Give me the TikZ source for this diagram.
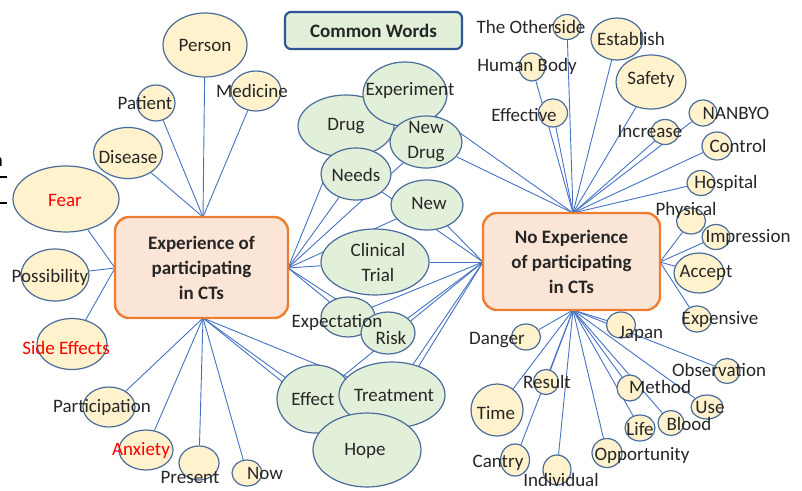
\documentclass[tikz,border=0pt]{standalone}
\usepackage{fontspec}
\setmainfont{Carlito}
\usetikzlibrary{shapes.geometric,backgrounds}
\definecolor{yfill}{HTML}{FFF2CC}
\definecolor{gfill}{HTML}{E2F0D9}
\definecolor{pfill}{HTML}{FBE5D6}
\definecolor{obord}{HTML}{ED7D31}
\definecolor{bbord}{HTML}{2F5597}
\definecolor{ebord}{HTML}{4A6C9B}
\definecolor{lcol}{HTML}{4472C4}
\definecolor{tcol}{HTML}{262626}
\definecolor{redt}{HTML}{FF0000}
\tikzset{
  yel/.style 2 args={ellipse, draw=ebord, fill=yfill, line width=1.2pt, inner sep=0pt, minimum width=#1pt, minimum height=#2pt},
  grn/.style 2 args={ellipse, draw=ebord, fill=gfill, line width=1.2pt, inner sep=0pt, minimum width=#1pt, minimum height=#2pt},
  hubbox/.style 2 args={rectangle, rounded corners=14pt, draw=obord, fill=pfill, line width=2.4pt, inner sep=0pt, minimum width=#1pt, minimum height=#2pt, align=center, font=\fontsize{19}{25}\selectfont\bfseries, text=tcol},
  cwbox/.style={rectangle, rounded corners=6pt, draw=bbord, fill=gfill, line width=2.2pt, inner sep=0pt, minimum width=177pt, minimum height=37pt, font=\fontsize{19}{25}\selectfont\bfseries, text=tcol},
  lbl/.style={inner sep=0pt, text=tcol, align=center},
  rlbl/.style={inner sep=0pt, text=redt, align=center},
  conn/.style={draw=lcol, line width=0.9pt},
  frag/.style={draw=black, line width=1.3pt}
}
\begin{document}
\begin{tikzpicture}[x=1pt,y=-1pt,font=\fontsize{19}{23}\selectfont]
\useasboundingbox (0,0) rectangle (802,490);

% stray fragments at the left edge
\node[lbl, anchor=east, text=black] (fragn) at (3,162) {n};
\coordinate (fa1) at (0,177); \coordinate (fa2) at (7,177);
\coordinate (fb1) at (0,203); \coordinate (fb2) at (7,203);
\draw[frag] (fa1) -- (fa2);
\draw[frag] (fb1) -- (fb2);

% main boxes
\node[hubbox={173}{101}] (lbox) at (201.5,267.5) {Experience of\\participating\\in CTs};
\node[hubbox={177}{97}] (rbox) at (571.5,261.5) {No Experience\\of participating\\in CTs};
\node[cwbox] (cw) at (373.5,30.5) {Common Words};

% hubs
\coordinate (lt) at (203,217);
\coordinate (lb) at (203,318);
\coordinate (ll) at (115,268);
\coordinate (lr) at (288,268);
\coordinate (rt) at (573,213);
\coordinate (rb) at (573,310);
\coordinate (rl) at (483,262);
\coordinate (rr) at (660,262);

% left yellow ellipses
\node[yel={84}{64}] (person) at (205,45) {};
\node[yel={50}{40}] (medicine) at (256,91) {};
\node[yel={38}{36}] (patient) at (156,103) {};
\node[yel={69}{51}] (disease) at (128,153) {};
\node[yel={106}{66}] (fear) at (66,199) {};
\node[yel={68}{52}] (possibility) at (55,275) {};
\node[yel={70}{51}] (sideeff) at (72,344) {};
\node[yel={52}{40}] (particip) at (109,407) {};
\node[yel={54}{40}] (anxiety) at (146,450) {};
\node[yel={40}{34}] (present) at (199,463) {};
\node[yel={30}{26}] (now) at (247,473) {};

% green ellipses
\node[grn={96}{62}] (drug) at (346,126) {};
\node[grn={84}{64}] (experiment) at (405,94) {};
\node[grn={70}{52}] (needs) at (356,174) {};
\node[grn={72}{52}] (newdrug) at (426,142) {};
\node[grn={72}{50}] (new) at (427,205) {};
\node[grn={108}{66}] (clinical) at (375,262) {};
\node[grn={54}{40}] (expect) at (348,317) {};
\node[grn={54}{42}] (risk) at (388,333) {};
\node[grn={76}{68}] (effect) at (315,399) {};
\node[grn={106}{66}] (treatment) at (392,395) {};
\node[grn={108}{74}] (hope) at (367,450) {};

% right yellow ellipses
\node[yel={28}{25}] (otherside) at (567,27) {};
\node[yel={52}{42}] (establish) at (617,39) {};
\node[yel={26}{28}] (humanbody) at (532,67) {};
\node[yel={70}{54}] (safety) at (651,82) {};
\node[yel={29}{28}] (effective) at (553,113) {};
\node[yel={28}{26}] (nanbyo) at (703,113) {};
\node[yel={28}{25}] (increase) at (665,132) {};
\node[yel={30}{28}] (control) at (717,146) {};
\node[yel={28}{25}] (hospital) at (701,183) {};
\node[yel={29}{26}] (physical) at (691,221) {};
\node[yel={28}{25}] (impression) at (716,237) {};
\node[yel={50}{40}] (accept) at (699,273) {};
\node[yel={29}{26}] (expensive) at (697,319) {};
\node[yel={29}{26}] (japan) at (621,325) {};
\node[yel={29}{26}] (danger) at (526,337) {};
\node[yel={26}{25}] (observation) at (727,371) {};
\node[yel={25}{25}] (result) at (546,382) {};
\node[yel={26}{26}] (method) at (630,388) {};
\node[yel={52}{52}] (time) at (497,410) {};
\node[yel={32}{24}] (use) at (707,407) {};
\node[yel={30}{26}] (life) at (640,428) {};
\node[yel={26}{25}] (blood) at (671,423) {};
\node[yel={29}{32}] (cantry) at (515,460) {};
\node[yel={28}{30}] (individual) at (557,470) {};
\node[yel={30}{29}] (opportunity) at (607,453) {};

% connectors
\begin{pgfonlayer}{background}
\foreach \n in {person,medicine,patient,disease} \draw[conn] (lt) -- (\n);
\foreach \n in {fear,possibility,sideeff} \draw[conn] (ll) -- (\n);
\foreach \n in {particip,anxiety,present,now,effect,hope,treatment} \draw[conn] (lb) -- (\n);
\foreach \n in {drug,needs,newdrug,new,clinical,expect,risk} \draw[conn] (lr) -- (\n);
\foreach \n in {needs,new,clinical,expect,risk,effect,treatment,hope} \draw[conn] (rl) -- (\n);
\foreach \n in {experiment,newdrug,otherside,establish,humanbody,effective,safety,increase,nanbyo,control,hospital} \draw[conn] (rt) -- (\n);
\foreach \n in {physical,impression,accept,expensive} \draw[conn] (rr) -- (\n);
\foreach \n in {danger,time,result,cantry,individual,opportunity,life,method,blood,use,japan,observation} \draw[conn] (rb) -- (\n);
\end{pgfonlayer}

% labels
\node[lbl] (person-t) at (205,45) {Person};
\node[lbl] (medicine-t) at (252,91) {Medicine};
\node[lbl] (patient-t) at (145,103) {Patient};
\node[lbl] (disease-t) at (128,157) {Disease};
\node[rlbl] (fear-t) at (65,200) {Fear};
\node[lbl] (possibility-t) at (50,277) {Possibility};
\node[rlbl] (sideeff-t) at (66,348) {Side Effects};
\node[lbl] (particip-t) at (102,407) {Participation};
\node[rlbl] (anxiety-t) at (141,450) {Anxiety};
\node[lbl] (present-t) at (190,477) {Present};
\node[lbl] (now-t) at (265,473) {Now};

\node[lbl] (drug-t) at (346,126) {Drug};
\node[lbl] (experiment-t) at (410,90) {Experiment};
\node[lbl] (needs-t) at (356,175) {Needs};
\node[lbl, font=\fontsize{19}{25}\selectfont] (newdrug-t) at (426,142) {New\\Drug};
\node[lbl] (new-t) at (429,203) {New};
\node[lbl, font=\fontsize{19}{25}\selectfont] (clinical-t) at (378,262) {Clinical\\Trial};
\node[lbl] (expect-t) at (337,322) {Expectation};
\node[lbl] (risk-t) at (391,338) {Risk};
\node[lbl] (effect-t) at (313,399) {Effect};
\node[lbl] (treatment-t) at (394,395) {Treatment};
\node[lbl] (hope-t) at (365,451) {Hope};

\node[lbl] (otherside-t) at (531,27) {The Otherside};
\node[lbl] (establish-t) at (631,39) {Establish};
\node[lbl] (humanbody-t) at (527,66) {Human Body};
\node[lbl] (safety-t) at (651,80) {Safety};
\node[lbl] (effective-t) at (524,115) {Effective};
\node[lbl] (nanbyo-t) at (736,113) {NANBYO};
\node[lbl] (increase-t) at (650,131) {Increase};
\node[lbl] (control-t) at (738,146) {Control};
\node[lbl] (hospital-t) at (726,183) {Hospital};
\node[lbl] (physical-t) at (686,210) {Physical};
\node[lbl] (impression-t) at (748,237) {Impression};
\node[lbl] (accept-t) at (706,273) {Accept};
\node[lbl] (expensive-t) at (720,319) {Expensive};
\node[lbl] (japan-t) at (641,334) {Japan};
\node[lbl] (danger-t) at (497,340) {Danger};
\node[lbl] (observation-t) at (719,370) {Observation};
\node[lbl] (result-t) at (547,382) {Result};
\node[lbl] (method-t) at (660,387) {Method};
\node[lbl] (time-t) at (496,413) {Time};
\node[lbl] (use-t) at (710,407) {Use};
\node[lbl] (life-t) at (640,429) {Life};
\node[lbl] (blood-t) at (689,424) {Blood};
\node[lbl] (cantry-t) at (498,463) {Cantry};
\node[lbl] (individual-t) at (561,480) {Individual};
\node[lbl] (opportunity-t) at (642,455) {Opportunity};
\end{tikzpicture}
\end{document}
